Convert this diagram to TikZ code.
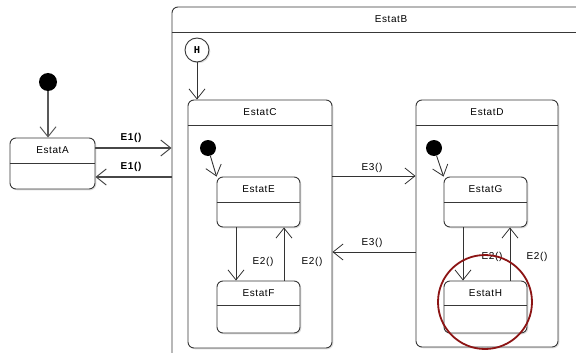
\documentclass[tikz,border=0pt]{standalone}
\usepackage{fontspec}
\setmainfont{Liberation Sans}
\setmonofont{Liberation Mono}
\newfontfamily\lblfont[LetterSpace=6]{Liberation Sans}
\usetikzlibrary{arrows.meta,calc,fit,shadows}
\newcommand\mkstate[7]{%
  \node[st, fit={(#2,#3)(#4,#5)}] (#1) {};
  \draw[divl] (#1.west |- 0,#6) -- (#1.east |- 0,#6);
  \node[ttl] at ($(#1.north)+(0,12.5)$) {#7};
}
\begin{document}
\begin{tikzpicture}[x=1pt,y=-1pt,
  st/.style={draw=black!78, rounded corners=6pt, fill=white, line width=0.9pt, inner sep=0pt,
    drop shadow={shadow xshift=1.3pt, shadow yshift=-1.3pt, opacity=0.25}},
  divl/.style={draw=black!78, line width=0.9pt},
  ttl/.style={font=\lblfont\fontsize{10}{12}\selectfont, inner sep=0pt},
  lbl/.style={font=\lblfont\fontsize{10}{12}\selectfont, inner sep=1pt},
  initdot/.style={circle, fill=black, inner sep=0pt},
  tip/.style={-{Straight Barb[length=10pt,width=16pt,line width=0.8pt]}},
  tr/.style={tip, draw=black!80, line width=0.9pt},
  thick tr/.style={-{Straight Barb[length=10pt,width=16pt,line width=1pt]}, draw=black!72, line width=1.8pt},
  hilite/.style={draw={rgb,255:red,140;green,20;blue,20}, line width=1.8pt}
]
\useasboundingbox (0,0) rectangle (576,353);
\fill[white] (0,0) rectangle (576,353);
\clip (0,0) rectangle (576,353);

% EstatA and its initial state
\node[initdot, minimum size=18pt] (iA) at (48,82) {};
\mkstate{A}{10}{138}{95}{189}{163}{EstatA}
\draw[-{Straight Barb[length=10pt,width=16pt,line width=1pt]}, draw=black!65, line width=2.6pt] (iA) -- (A.north -| iA);

% EstatB (composite, runs past the picture edge)
\mkstate{B}{172}{7}{610}{390}{32}{EstatB}

% history pseudo-state
\node[circle, draw=black!78, fill=white, line width=0.9pt, minimum size=24pt, inner sep=0pt,
  drop shadow={shadow xshift=1.3pt, shadow yshift=-1.3pt, opacity=0.25},
  font=\ttfamily\bfseries\fontsize{10.5}{12}\selectfont] (hist) at (197,50) {H};

% EstatC
\mkstate{C}{188}{100}{332}{348}{125}{EstatC}
\draw[tr] (hist) -- (hist |- C.north);

% EstatD
\mkstate{D}{416}{100}{558}{347}{125}{EstatD}

% inner states of C
\node[initdot, minimum size=16pt] (iC) at (208,148) {};
\mkstate{E}{217}{177}{300}{227}{202}{EstatE}
\mkstate{F}{217}{281}{300}{333}{305}{EstatF}
\draw[tr] (iC) -- (E.north west);
\draw[tr] ([xshift=-22.5pt]E.south) -- ([xshift=-22.5pt]F.north);
\draw[tr] ([xshift=25.5pt]F.north) -- ([xshift=25.5pt]E.south);
\node[lbl] (lE2a) at (263,262) {E2()};
\node[lbl] (lE2b) at (312,262) {E2()};

% inner states of D
\node[initdot, minimum size=16pt] (iD) at (434,148) {};
\mkstate{G}{444}{177}{527}{227}{202}{EstatG}
\mkstate{Hs}{444}{281}{527}{333}{305}{EstatH}
\draw[tr] (iD) -- (G.north west);
\draw[tr] ([xshift=-22.5pt]G.south) -- ([xshift=-22.5pt]Hs.north);
\draw[tr] ([xshift=24.5pt]Hs.north) -- ([xshift=24.5pt]G.south);
\node[lbl] (lE2c) at (492,257) {E2()};
\node[lbl] (lE2d) at (537,257) {E2()};

% E1 transitions between A and B
\coordinate (a1) at (A.east |- 0,148);
\coordinate (a2) at (A.east |- 0,177);
\draw[thick tr] (a1) -- (a1 -| B.west);
\draw[thick tr] (a2 -| B.west) -- (a2);
\node[lbl, font=\lblfont\bfseries\fontsize{10}{12}\selectfont] (lE1a) at (131,138) {E1()};
\node[lbl, font=\lblfont\bfseries\fontsize{10}{12}\selectfont] (lE1b) at (131,167) {E1()};

% E3 transitions between C and D
\coordinate (c1) at (C.east |- 0,176);
\coordinate (c2) at (C.east |- 0,252);
\draw[tr] (c1) -- (c1 -| D.west);
\draw[tr] (c2 -| D.west) -- (c2);
\node[lbl] (lE3a) at (372,168) {E3()};
\node[lbl] (lE3b) at (372,243) {E3()};

% highlight circle
\node[circle, hilite, minimum size=94pt, inner sep=0pt] (ring) at (485,302) {};
\end{tikzpicture}
\end{document}
